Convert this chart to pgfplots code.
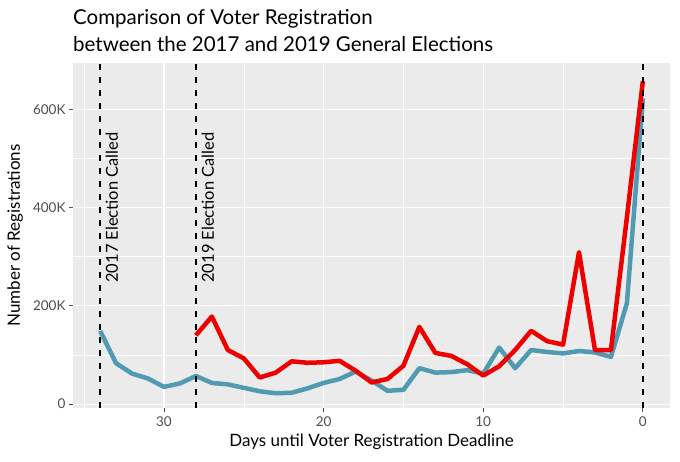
\documentclass[border=0pt]{standalone}
\usepackage{pgfplots}
\pgfplotsset{compat=1.18}
\usepackage{fontspec}
\setmainfont{Lato}
\definecolor{panel}{RGB}{235,235,235}
\definecolor{blueline}{RGB}{80,155,178}
\definecolor{redline}{RGB}{238,0,0}
\definecolor{ticklab}{RGB}{77,77,77}

\pgfplotstableread{
x y
34 149000
33 83000
32 62000
31 52000
30 35000
29 42000
28 57000
27 43000
26 40000
25 33000
24 26000
23 22000
22 23000
21 32000
20 43000
19 51000
18 66000
17 48000
16 27000
15 29000
14 73000
13 64000
12 65000
11 69000
10 62000
9 115000
8 73000
7 110000
6 106000
5 103000
4 108000
3 105000
2 96000
1 205000
0 622000
}\seventeen

\pgfplotstableread{
x y
28 140000
27 178000
26 110000
25 93000
24 54000
23 64000
22 87000
21 84000
20 85000
19 88000
18 68000
17 44000
16 51000
15 78000
14 157000
13 104000
12 98000
11 81000
10 58000
9 77000
8 110000
7 149000
6 128000
5 121000
4 309000
3 110000
2 110000
1 380000
0 657000
}\nineteen

\begin{document}
\begin{tikzpicture}[x=1pt,y=1pt]
\useasboundingbox (0,0) rectangle (680,462);
\node[anchor=base west, inner sep=0pt, font=\fontsize{20.5}{20.5}\selectfont] at (73,437) {Comparison of Voter Registration};
\node[anchor=base west, inner sep=0pt, font=\fontsize{20.5}{20.5}\selectfont] at (73,410) {between the 2017 and 2019 General Elections};
\begin{axis}[
  at={(73pt,54pt)}, anchor=south west,
  scale only axis, width=597pt, height=345pt,
  xmin=-1.7, xmax=35.7, x dir=reverse,
  ymin=-8000, ymax=694000,
  axis background/.style={fill=panel},
  axis line style={draw=none},
  grid=both,
  major grid style={white, line width=1.1pt},
  minor grid style={white, line width=0.55pt},
  xtick={0,10,20,30}, minor xtick={5,15,25,35},
  ytick={0,200000,400000,600000}, minor ytick={100000,300000,500000},
  yticklabels={0,200K,400K,600K},
  scaled y ticks=false,
  tick style={ticklab, line width=0.9pt},
  major tick length=4pt, minor tick length=0pt,
  tick align=outside, xtick pos=bottom, ytick pos=left,
  tick label style={ticklab, font=\fontsize{13.5}{13.5}\selectfont},
  xticklabel style={yshift=-1.5pt},
  /pgf/number format/assume math mode=true,
  xlabel={Days until Voter Registration Deadline},
  ylabel={Number of Registrations},
  label style={font=\fontsize{17}{17}\selectfont},
  xlabel style={at={(axis description cs:0.5,-0.099)}, anchor=center},
  ylabel style={at={(axis description cs:-0.097,0.5)}, anchor=center},
  line join=round,
]
\addplot[blueline, line width=4.5pt] table[x=x,y=y] {\seventeen};
\addplot[redline, line width=4.5pt] table[x=x,y=y] {\nineteen};
\addplot[black, line width=1.6pt, dash pattern=on 6pt off 7pt] coordinates {(34,-8000) (34,694000)};
\addplot[black, line width=1.6pt, dash pattern=on 6pt off 7pt] coordinates {(28,-8000) (28,694000)};
\addplot[black, line width=1.6pt, dash pattern=on 6pt off 7pt] coordinates {(0,-8000) (0,694000)};
\node[rotate=90, font=\fontsize{16.5}{16.5}\selectfont] at (axis cs:33.27,400000) {2017 Election Called};
\node[rotate=90, font=\fontsize{16.5}{16.5}\selectfont] at (axis cs:27.25,400000) {2019 Election Called};
\end{axis}
\end{tikzpicture}
\end{document}
